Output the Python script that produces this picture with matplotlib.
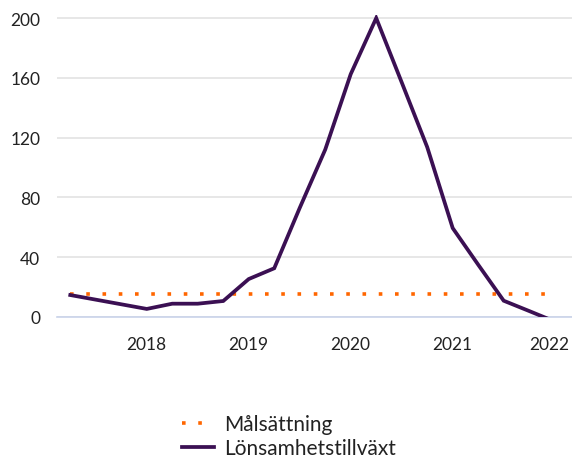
import matplotlib.pyplot as plt
from matplotlib.lines import Line2D
from matplotlib.transforms import ScaledTranslation

plt.rcParams['font.family'] = ['Lato', 'DejaVu Sans']

# Quarterly data, 2017 Q2 .. 2022 Q1
quarters = [2017.25 + 0.25 * i for i in range(20)]
growth = [14.7, 11.6, 8.5, 5.4, 8.9, 8.9, 10.7, 25.4, 32.6, 73,
          112, 162.5, 200, 157, 113.7, 59.5, 35, 10.9, 4, -3]
target = [15.5] * 20
year_ticks = [2018, 2019, 2020, 2021, 2022]
y_ticks = [0, 40, 80, 120, 160, 200]

purple = '#3b1053'
orange = '#ff6600'

fig = plt.figure(figsize=(5.72, 4.6), dpi=100)
ax = fig.add_axes([0.0997, 0.3087, 0.9003, 0.6563])

ax.plot(quarters, target, color=orange, lw=2.6, linestyle=(0, (1, 3.5)),
        dash_capstyle='butt', label='Målsättning', zorder=3)
ax.plot(quarters, growth, color=purple, lw=2.7, label='Lönsamhetstillväxt',
        zorder=4, solid_joinstyle='miter')

ax.set_xlim(2017.12, 2022.17)
ax.set_ylim(0, 202)
ax.set_yticks(y_ticks)
ax.set_xticks(year_ticks)
ax.set_xticklabels([str(y) for y in year_ticks])

for s in ['top', 'right', 'left']:
    ax.spines[s].set_visible(False)
ax.spines['bottom'].set_color('#c9d3ea')
ax.spines['bottom'].set_linewidth(1.2)
ax.grid(axis='y', color='#e0e0e0', lw=1.1)
ax.set_axisbelow(True)
ax.tick_params(axis='both', length=0, labelsize=12.5, colors='#222222')
ax.tick_params(axis='x', pad=14)
ax.tick_params(axis='y', pad=12)

# last year label sits a bit inward so it fits the figure
last = ax.get_xticklabels()[-1]
last.set_transform(last.get_transform() + ScaledTranslation(-5 / 100, 0, fig.dpi_scale_trans))

handles = [Line2D([], [], color=orange, lw=2.6, linestyle=(0, (1, 3.5))),
           Line2D([], [], color=purple, lw=2.7)]
fig.legend(handles, ['Målsättning', 'Lönsamhetstillväxt'],
           loc='upper left', bbox_to_anchor=(0.318, 0.097), frameon=False,
           fontsize=15, handlelength=1.55, handletextpad=0.5,
           labelspacing=0.18, borderpad=0, borderaxespad=0,
           labelcolor='#222222')

fig.savefig('out.png', dpi=100)
